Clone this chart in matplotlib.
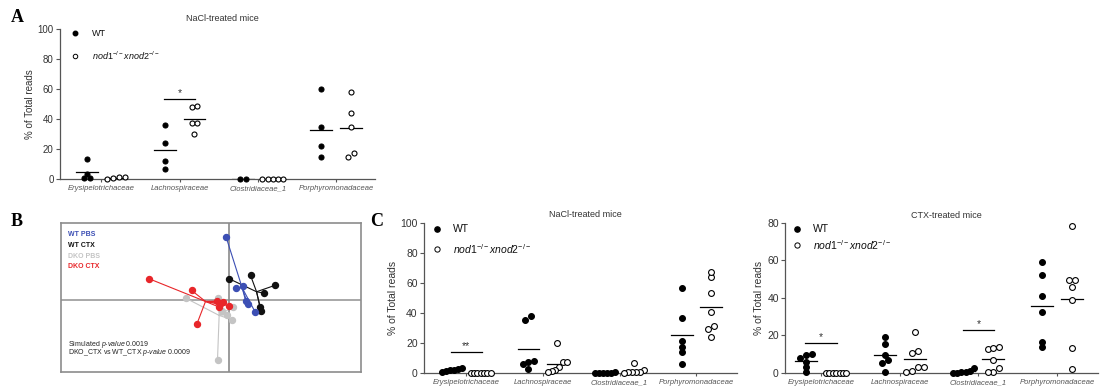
import numpy as np
import matplotlib
matplotlib.use('Agg')
import matplotlib.pyplot as plt

plt.rcParams['font.family'] = ['Liberation Sans', 'DejaVu Sans']
plt.rcParams['mathtext.fontset'] = 'custom'
plt.rcParams['mathtext.rm'] = 'Liberation Sans'
plt.rcParams['mathtext.it'] = 'Liberation Sans:italic'

# ---- data ----
families = ['Erysipelotrichaceae', 'Lachnospiraceae', 'Clostridiaceae_1', 'Porphyromonadaceae']

# panel A, NaCl-treated mice
a_wt = [[13.6, 3.6, 0.5, 0.5],
        [35.9, 23.8, 12.2, 6.7],
        [0.0, 0.0],
        [59.9, 34.5, 22.3, 14.9]]
a_ko = [[1.5, 0.5, 1.2, 0.3],
        [48.0, 48.5, 37.0, 37.5, 30.0],
        [0.0, 0.0, 0.0, 0.0, 0.0],
        [58.1, 43.9, 34.7, 17.0, 14.9]]
a_sig = [(1, 53.2, '*')]

# panel C, NaCl-treated mice
c1_wt = [[2.5, 2.0, 1.5, 3.0, 1.0, 0.5],
         [35.6, 37.8, 6.9, 7.8, 2.4, 5.6],
         [0.2, 0.0, 0.0, 0.0, 0.1, 0.0],
         [56.7, 36.7, 21.1, 17.3, 14.0, 5.6]]
c1_ko = [[0.0, 0.0, 0.0, 0.0, 0.0, 0.0, 0.0],
         [19.6, 7.0, 7.0, 4.0, 1.5, 1.0, 0.8],
         [6.7, 1.8, 0.5, 0.5, 0.3, 0.2, 0.0],
         [63.9, 67.6, 53.1, 40.8, 31.5, 29.0, 24.1]]
c1_sig = [(0, 14.0, '**')]

# panel C, CTX-treated mice
c2_wt = [[10.0, 9.5, 8.0, 5.5, 2.8, 0.2],
         [18.8, 15.3, 9.4, 6.8, 5.0, 0.5],
         [0.2, 1.1, 2.3, 0.3, 0.1, 0.0],
         [59.2, 52.1, 41.1, 32.2, 13.5, 16.2]]
c2_ko = [[0.0, 0.0, 0.0, 0.0, 0.0, 0.0, 0.0],
         [21.9, 11.7, 10.7, 3.2, 3.2, 0.5, 0.9],
         [13.9, 12.4, 13.0, 6.8, 2.3, 0.5, 0.5],
         [78.4, 49.4, 45.9, 49.4, 38.8, 13.3, 1.8]]
c2_sig = [(0, 16.0, '*'), (2, 22.8, '*')]

# panel B, ordination coordinates per group
groups_b = ['WT PBS', 'WT CTX', 'DKO PBS', 'DKO CTX']
colors_b = ['#3c4fb4', '#111111', '#c4c4c4', '#e8262a']
wt_pbs_x = [-0.03, 0.067, 0.143, 0.167, 0.187, 0.26]
wt_pbs_y = [0.633, 0.123, 0.137, -0.01, -0.043, -0.117]
wt_ctx_x = [0.003, 0.215, 0.46, 0.345, 0.312, 0.318]
wt_ctx_y = [0.212, 0.247, 0.147, 0.07, -0.072, -0.107]
dko_pbs_x = [-0.435, -0.11, 0.035, -0.07, -0.02, 0.025, -0.115]
dko_pbs_y = [0.02, 0.02, -0.07, -0.11, -0.145, -0.195, -0.597]
dko_ctx_x = [-0.805, -0.375, -0.32, -0.125, -0.10, -0.065, -0.09, 0.0]
dko_ctx_y = [0.215, 0.097, -0.237, -0.01, -0.07, -0.015, -0.04, -0.055]
b_stats = ['Simulated $\\it{p}$-$\\it{value}$ 0.0019',
           'DKO_CTX vs WT_CTX $\\it{p}$-$\\it{value}$ 0.0009']

ko_label = r'$\mathit{nod1}^{-/-}\mathit{xnod2}^{-/-}$'
axis_col = '#555555'
text_col = '#333333'


def spread(values, thr, step):
    # put close values side by side, like the prism scatter
    vals = np.asarray(values, dtype=float)
    order = np.argsort(vals)
    offs = np.zeros(len(vals))
    clusters = [[order[0]]]
    for i in order[1:]:
        if vals[i] - vals[clusters[-1][-1]] <= thr:
            clusters[-1].append(i)
        else:
            clusters.append([i])
    for cl in clusters:
        n = len(cl)
        st = step if n < 3 else min(step, 0.26 / (n - 1))
        for k, i in enumerate(cl):
            offs[i] = (k - (n - 1) / 2) * st
    return offs


def scatter_panel(ax, wt, ko, sig, ymax, ystep, title, xlim, fs, ms, leg):
    thr = ymax * 0.03
    for i in range(len(families)):
        for vals, dx, filled in ((wt[i], -0.19, True), (ko[i], 0.19, False)):
            xs = i + dx + spread(vals, thr, 0.075)
            ax.plot(xs, vals, 'o', ls='none', ms=ms, mew=0.8,
                    mfc='black' if filled else 'white', mec='black', clip_on=False, zorder=3)
            m = np.mean(vals)
            ax.plot([i + dx - 0.14, i + dx + 0.14], [m, m], color='black', lw=0.9, zorder=2)
    for i, y, s in sig:
        ax.plot([i - 0.2, i + 0.2], [y, y], color='black', lw=0.9)
        ax.text(i, y + ymax * 0.005, s, ha='center', va='bottom', fontsize=7.5, color=text_col)
    ax.set_xlim(*xlim)
    ax.set_ylim(0, ymax)
    ax.set_yticks(np.arange(0, ymax + 1, ystep))
    ax.set_xticks(range(len(families)))
    ax.set_xticklabels(families, fontstyle='italic', fontsize=5.5, color=text_col)
    ax.tick_params(axis='y', labelsize=fs, colors=axis_col, labelcolor=text_col, length=3, width=0.8, pad=1.5)
    ax.tick_params(axis='x', colors=axis_col, length=2.5, width=0.8, pad=2)
    for s in ['top', 'right']:
        ax.spines[s].set_visible(False)
    for s in ['left', 'bottom']:
        ax.spines[s].set_color(axis_col)
        ax.spines[s].set_linewidth(0.9)
    ax.set_ylabel('% of Total reads', fontsize=fs, color=text_col, labelpad=2)
    ax.text(0.515, leg[4], title, transform=ax.transAxes, ha='center', va='center',
            fontsize=6.5, color=text_col)
    lx, tx, y1, y2 = leg[:4]
    ax.plot([lx], [y1], 'o', ms=ms * 0.9, mfc='black', mec='black', transform=ax.transAxes, clip_on=False)
    ax.plot([lx], [y2], 'o', ms=ms * 0.9, mfc='white', mec='black', mew=0.7,
            transform=ax.transAxes, clip_on=False)
    ax.text(tx, y1, 'WT', transform=ax.transAxes, va='center', fontsize=leg[5], color='#111111')
    ax.text(tx, y2, ko_label, transform=ax.transAxes, va='center', fontsize=leg[5], color='#111111')


fig = plt.figure(figsize=(11.03, 3.92), dpi=100)

# panel A
ax_a = fig.add_axes([0.0544, 0.5434, 0.2856, 0.3827])
scatter_panel(ax_a, a_wt, a_ko, a_sig, 100, 20, 'NaCl-treated mice', (-0.53, 3.5), 7, 3.6,
              (0.048, 0.10, 0.973, 0.82, 1.067, 6.5))

# panel C, NaCl
ax_c1 = fig.add_axes([0.3844, 0.0492, 0.2838, 0.3811])
scatter_panel(ax_c1, c1_wt, c1_ko, c1_sig, 100, 20, 'NaCl-treated mice', (-0.55, 3.53), 7.5, 4.2,
              (0.04, 0.093, 0.962, 0.825, 1.062, 7.5))

# panel C, CTX
ax_c2 = fig.add_axes([0.7117, 0.0492, 0.2838, 0.3827])
scatter_panel(ax_c2, c2_wt, c2_ko, c2_sig, 80, 20, 'CTX-treated mice', (-0.46, 3.52), 7.5, 4.2,
              (0.039, 0.088, 0.956, 0.85, 1.045, 7.5))

# panel B
ax_b = fig.add_axes([0.0553, 0.051, 0.272, 0.380])
bx = [wt_pbs_x, wt_ctx_x, dko_pbs_x, dko_ctx_x]
by = [wt_pbs_y, wt_ctx_y, dko_pbs_y, dko_ctx_y]
ax_b.axhline(0, color='#9a9a9a', lw=1.2, zorder=0)
ax_b.axvline(0, color='#8a8a8a', lw=1.2, zorder=0)
for k in [2, 1, 0, 3]:
    xs, ys = np.array(bx[k]), np.array(by[k])
    cx, cy = xs.mean(), ys.mean()
    for x, y in zip(xs, ys):
        ax_b.plot([cx, x], [cy, y], color=colors_b[k], lw=0.8, zorder=1)
    ax_b.plot(xs, ys, 'o', ms=4.3, color=colors_b[k], zorder=2)
ax_b.set_xlim(-1.68, 1.32)
ax_b.set_ylim(-0.72, 0.77)
ax_b.set_xticks([])
ax_b.set_yticks([])
for s in ax_b.spines.values():
    s.set_color('#8c8c8c')
    s.set_linewidth(1.2)
for k, yy in enumerate([0.926, 0.846, 0.776, 0.705]):
    ax_b.text(0.023, yy, groups_b[k], transform=ax_b.transAxes, fontsize=5,
              fontweight='bold', color=colors_b[k], va='center')
ax_b.text(0.023, 0.188, b_stats[0], transform=ax_b.transAxes, fontsize=5, color='#222222', va='center')
ax_b.text(0.023, 0.128, b_stats[1], transform=ax_b.transAxes, fontsize=5, color='#222222', va='center')

# panel letters
for lab, x, y in [('A', 17, 17), ('B', 17, 222), ('C', 377, 222)]:
    fig.text(x / 1103, 1 - y / 392, lab, fontsize=13, fontweight='bold',
             family='Liberation Serif', ha='center', va='center')

fig.savefig('out.png', dpi=100)
